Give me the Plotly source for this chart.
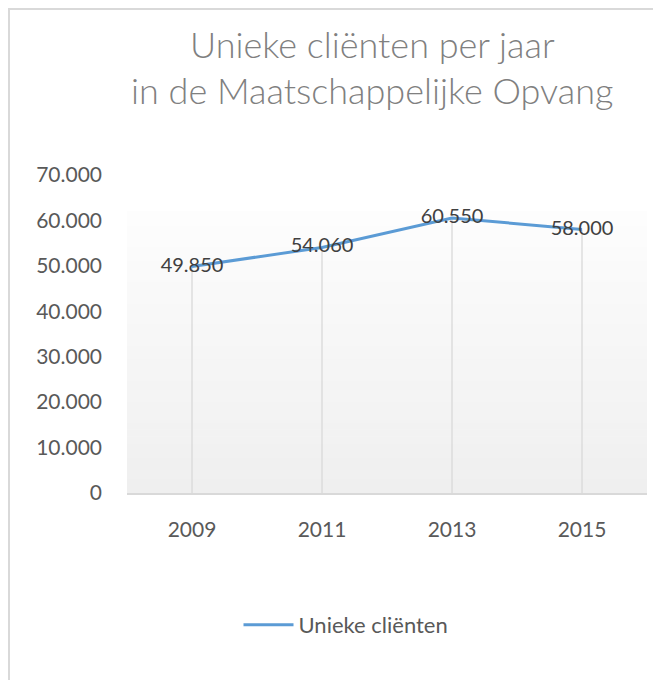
import plotly.graph_objects as go

years = ["2009", "2011", "2013", "2015"]
clients = [49850, 54060, 60550, 58000]
series_name = "Unieke cliënten"
title_lines = ["Unieke cliënten per jaar", "in de Maatschappelijke Opvang"]
y_ticks = [0, 10000, 20000, 30000, 40000, 50000, 60000, 70000]

OFF = 8  # page body margin
W, H = 661 - OFF, 680 - OFF
# plot area in page px: x 127..647, y 175..493
ML = 127 - OFF
MT = 175 - OFF
MR = W - (647 - OFF)
MB = H - (493 - OFF)
PW = W - ML - MR
PH = H - MT - MB


def px_x(x):
    return (x - OFF - ML) / PW


def px_y(y):
    return (H - MB - (y - OFF)) / PH


FONT = "Lato, 'Open Sans', sans-serif"

fig = go.Figure()

# drop lines
dx, dy = [], []
for c, v in zip(years, clients):
    dx += [c, c, None]
    dy += [0, v, None]
fig.add_trace(go.Scatter(x=dx, y=dy, mode="lines", line=dict(color="#d9d9d9", width=1.3),
                         showlegend=False, hoverinfo="skip"))

fig.add_trace(go.Scatter(
    x=years, y=clients, mode="lines+text", name=series_name,
    line=dict(color="#5B9BD5", width=3),
    text=clients, texttemplate="%{y:,d}", textposition="middle center",
    textfont=dict(family=FONT, size=20, color="#404040"),
))

shapes = []
# gradient background strips
top_p = px_y(212)
n = 40
for i in range(n):
    y0 = top_p * i / n
    y1 = top_p * (i + 1) / n
    t = i / (n - 1)
    g = int(round(0xef + (0xfd - 0xef) * t))
    shapes.append(dict(type="rect", xref="paper", yref="paper", x0=0, x1=1, y0=y0, y1=y1 + 0.002,
                       fillcolor=f"rgb({g},{g},{g})", line=dict(width=0), layer="below"))
# chart border (left + top)
shapes.append(dict(type="line", xref="paper", yref="paper", x0=px_x(9), x1=px_x(9), y0=px_y(9), y1=px_y(700),
                   line=dict(color="#d9d9d9", width=2)))
shapes.append(dict(type="line", xref="paper", yref="paper", x0=px_x(8), x1=px_x(700), y0=px_y(9), y1=px_y(9),
                   line=dict(color="#d9d9d9", width=2)))

annotations = []
for line, ypx in zip(title_lines, [44, 90]):
    annotations.append(dict(text=line, xref="paper", yref="paper", x=px_x(372), y=px_y(ypx),
                            xanchor="center", yanchor="middle", showarrow=False,
                            font=dict(family=FONT, size=36, color="#808080", weight=300)))

fig.update_layout(
    width=W, height=H,
    margin=dict(l=ML, r=MR, t=MT, b=MB),
    paper_bgcolor="white", plot_bgcolor="rgba(0,0,0,0)",
    separators=",.",
    shapes=shapes, annotations=annotations,
    showlegend=True,
    legend=dict(x=px_x(346), y=px_y(625), xanchor="center", yanchor="middle",
                orientation="h", font=dict(family=FONT, size=22, color="#595959"),
                itemwidth=50, bgcolor="rgba(0,0,0,0)"),
    xaxis=dict(type="category", range=[-0.5, 3.5], showgrid=False, showline=True,
               linecolor="#d9d9d9", linewidth=1.5, ticks="", ticklabelstandoff=17,
               tickfont=dict(family=FONT, size=21, color="#595959"), zeroline=False),
    yaxis=dict(range=[0, 70000], tickvals=y_ticks, tickformat=",d", showgrid=False, showline=False,
               zeroline=False, ticks="", ticklabelstandoff=24,
               tickfont=dict(family=FONT, size=21, color="#595959")),
)

fig.write_html("out.html")
